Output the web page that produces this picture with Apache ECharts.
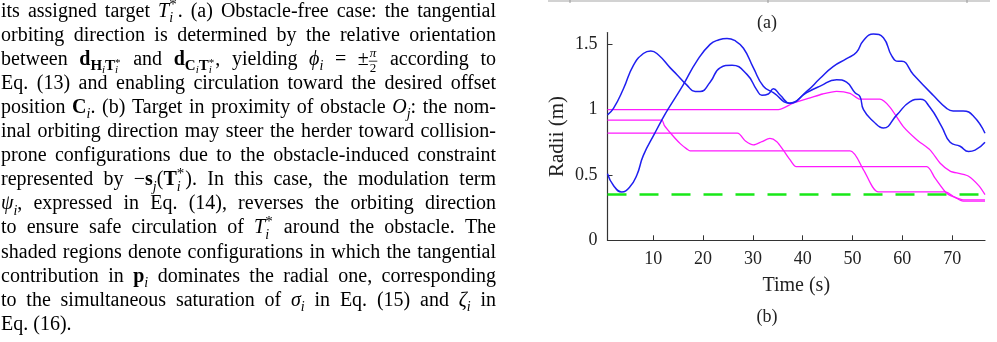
<!DOCTYPE html>
<html>
<head>
<meta charset="utf-8">
<script src="https://cdn.jsdelivr.net/npm/echarts@6/dist/echarts.min.js"></script>
<style>
    html, body { margin: 0; padding: 0; background: #fff; }
    #chart { width: 997px; height: 342px; }
</style>
</head>
<body>
<div id="chart"></div>
<script>
(function () {

    "use strict";

    // ---- data (time in s, radius in m) ----
    const blueATime = [0.8, 2, 4, 6, 8, 9.5, 11, 13.4, 14.7, 16.7, 18.4, 19.4, 21.4, 23.4, 25.8, 28.8, 30.8, 31.8, 33.1, 34.1, 35.5, 37.4, 40.8, 43.5, 46.8, 48.8, 50.5, 51.5, 52.2, 54.2, 56.2, 58.9, 61.5, 63.6, 65.5, 67.9, 69.6, 71.6, 73.3, 74.6, 76.6];
    const blueAValue = [0.96, 1.01, 1.16, 1.34, 1.43, 1.45, 1.42, 1.32, 1.27, 1.19, 1.14, 1.14, 1.21, 1.32, 1.34, 1.27, 1.15, 1.11, 1.12, 1.16, 1.11, 1.05, 1.13, 1.18, 1.23, 1.21, 1.13, 1.10, 1.00, 0.91, 0.86, 0.96, 1.06, 1.08, 1.02, 0.87, 0.75, 0.72, 0.68, 0.69, 0.75];

    const blueBTime = [0.8, 2, 3.65, 5.3, 6.7, 8, 10.3, 11.7, 12.9, 16, 18.7, 21.4, 23.2, 24.8, 26.3, 28.1, 30.1, 32.1, 34.1, 37.4, 40.8, 43.5, 46.1, 48.8, 50.8, 52.2, 54.2, 56.2, 57.9, 59.2, 59.9, 62.2, 66.2, 68.9, 70.2, 72.2, 74.3, 76.6];
    const blueBValue = [0.51, 0.42, 0.37, 0.41, 0.50, 0.65, 0.82, 0.92, 1.0, 1.19, 1.37, 1.50, 1.535, 1.545, 1.53, 1.47, 1.32, 1.18, 1.13, 1.05, 1.14, 1.24, 1.33, 1.39, 1.44, 1.53, 1.58, 1.55, 1.41, 1.37, 1.37, 1.27, 1.11, 1.01, 0.99, 0.99, 0.95, 0.82];

    const pinkATime = [0.8, 35.1, 38.1, 41.5, 44, 46.8, 49.5, 51.5, 55.5, 57.5, 60.2, 62.9, 65.6, 67.6, 69.6, 71.6, 73.3, 75.3, 76.6];
    const pinkAValue = [1.0, 1.0, 1.05, 1.09, 1.12, 1.14, 1.125, 1.08, 1.08, 1.02, 0.87, 0.77, 0.69, 0.59, 0.53, 0.51, 0.49, 0.42, 0.35];

    const pinkBTime = [0.8, 11.7, 12.2, 13.7, 15.4, 16.7, 17.4, 49.5, 52.2, 55.2, 68.6, 70.5, 72.2, 76.6];
    const pinkBValue = [0.92, 0.92, 0.88, 0.81, 0.74, 0.70, 0.684, 0.684, 0.54, 0.37, 0.37, 0.33, 0.30, 0.30];

    const pinkCTime = [0.8, 26.9, 28.5, 30.1, 31.8, 33.4, 34.8, 36.1, 37.4, 38.7, 64.9, 66.5, 68.9, 70.5, 72.2, 76.6];
    const pinkCValue = [0.82, 0.82, 0.76, 0.73, 0.755, 0.78, 0.755, 0.69, 0.62, 0.564, 0.564, 0.48, 0.36, 0.33, 0.31, 0.31];

    const safeTime = [0.8, 76.6];
    const safeValue = [0.35, 0.35];

    const xTicks = [10, 20, 30, 40, 50, 60, 70];
    const yTicks = [0, 0.5, 1, 1.5];

    // caption text beside the plot, {style:text} marks math pieces
    const textLines = [
        'its assigned target {i:T}{ss:i:*}. (a) Obstacle-free case: the tangential',
        'orbiting direction is determined by the relative orientation',
        'between {b:d}{sb:H}{ssi:i}{sb:T}{sss:i:*} and {b:d}{sb:C}{ssi:i}{sb:T}{sss:i:*}, yielding {i:ϕ}{s:i} = ±{fr:π:2} according to',
        'Eq. (13) and enabling circulation toward the desired offset',
        'position {b:C}{s:i}. (b) Target in proximity of obstacle {i:O}{s:j}: the nom-',
        'inal orbiting direction may steer the herder toward collision-',
        'prone configurations due to the obstacle-induced constraint',
        'represented by −{b:s}{s:j}({b:T}{ss:i:*}). In this case, the modulation term',
        '{i:ψ}{s:i}, expressed in Eq. (14), reverses the orbiting direction',
        'to ensure safe circulation of {i:T}{ss:i:*} around the obstacle. The',
        'shaded regions denote configurations in which the tangential',
        'contribution in {b:p}{s:i} dominates the radial one, corresponding',
        'to the simultaneous saturation of {i:σ}{s:i} in Eq. (15) and {i:ζ}{s:i} in',
        'Eq. (16).'
    ];

    const zip = (t, v) => t.map((x, k) => [x, v[k]]);

    // ---- text layout helpers ----
    const FONT = '"Liberation Serif", "Times New Roman", serif';
    const BODY = 20;
    const measureCtx = document.createElement('canvas').getContext('2d');

    const S = {
        r: {size: BODY},
        i: {size: BODY, italic: true},
        b: {size: BODY, bold: true},
        s: {size: 14, italic: true, dy: 5},
        sb: {size: 15, bold: true, dy: 5},
        ssi: {size: 11, italic: true, dy: 8},
        sup: {size: 15, dy: -8},
        sup2: {size: 11, dy: 1},
        num: {size: 13, italic: true, dy: -8},
        den: {size: 13, dy: 7}
    };

    function fontOf(st) {
        return (st.italic ? 'italic ' : '') + (st.bold ? 'bold ' : '') + st.size + 'px ' + FONT;
    }

    function measure(text, st) {
        measureCtx.font = fontOf(st);
        return measureCtx.measureText(text).width;
    }

    function parseWord(word) {
        const parts = [];
        const re = /\{([a-z0-9]+):([^}]*)\}|([^{]+)/g;
        let m;
        while ((m = re.exec(word)) !== null) {
            if (m[3]) {
                parts.push({kind: 'r', args: [m[3]]});
            } else {
                parts.push({kind: m[1], args: m[2].split(':')});
            }
        }
        return parts;
    }

    function layoutPart(p) {
        const k = p.kind, a = p.args;
        if (k === 'ss' || k === 'sss') {
            const lo = k === 'ss' ? S.s : S.ssi;
            const hi = k === 'ss' ? S.sup : S.sup2;
            const w = Math.max(measure(a[0], lo), measure(a[1], hi));
            return {w: w + 1, items: [{t: a[0], st: lo, dx: 0}, {t: a[1], st: hi, dx: 0}]};
        }
        if (k === 'fr') {
            const w1 = measure(a[0], S.num), w2 = measure(a[1], S.den);
            const w = Math.max(w1, w2) + 2;
            return {w: w + 1, bar: w, items: [{t: a[0], st: S.num, dx: (w - w1) / 2}, {t: a[1], st: S.den, dx: (w - w2) / 2}]};
        }
        const st = S[k] || S.r;
        return {w: measure(a[0], st), items: [{t: a[0], st: st, dx: 0}]};
    }

    function textElement(text, st, x, baseline) {
        return {
            type: 'text',
            x: x,
            y: baseline + (st.dy || 0) - 0.3375 * st.size,
            silent: true,
            style: {
                text: text,
                fontSize: st.size,
                fontFamily: FONT,
                fontStyle: st.italic ? 'italic' : 'normal',
                fontWeight: st.bold ? 'bold' : 'normal',
                fill: '#000',
                align: 'left',
                verticalAlign: 'middle'
            }
        };
    }

    function buildCaption(left, width, firstBaseline, step) {
        const out = [];
        textLines.forEach((line, li) => {
            const words = line.split(' ').map((w) => {
                const parts = parseWord(w).map(layoutPart);
                return {parts: parts, w: parts.reduce((s, p) => s + p.w, 0)};
            });
            const total = words.reduce((s, w) => s + w.w, 0);
            const last = li === textLines.length - 1;
            const gap = last ? measure(' ', S.r) : (width - total) / (words.length - 1);
            const baseline = firstBaseline + li * step;
            let x = left;
            words.forEach((w) => {
                let px = x;
                w.parts.forEach((p) => {
                    p.items.forEach((it) => out.push(textElement(it.t, it.st, px + it.dx, baseline)));
                    if (p.bar) {
                        out.push({
                            type: 'line', silent: true,
                            shape: {x1: px, y1: baseline - 5, x2: px + p.bar, y2: baseline - 5},
                            style: {stroke: '#000', lineWidth: 0.8}
                        });
                    }
                    px += p.w;
                });
                x += w.w + gap;
            });
        });
        return out;
    }

    // ---- chart ----
    const container = document.getElementById('chart');
    const chart = echarts.init(container, null, {renderer: 'canvas'});

    const axisColor = '#333';
    const labelStyle = {fontFamily: FONT, fontSize: 18, color: '#222'};

    const graphics = buildCaption(1, 495, 18, 24.1).concat([
        {type: 'rect', silent: true, shape: {x: 548, y: 0, width: 442, height: 2}, style: {fill: '#d2d2d2'}},
        {type: 'line', silent: true, shape: {x1: 570, y1: 0, x2: 570, y2: 3}, style: {stroke: '#999', lineWidth: 1}},
        {type: 'line', silent: true, shape: {x1: 768, y1: 0, x2: 768, y2: 3}, style: {stroke: '#999', lineWidth: 1}},
        {type: 'line', silent: true, shape: {x1: 967, y1: 0, x2: 967, y2: 3}, style: {stroke: '#999', lineWidth: 1}},
        {type: 'text', silent: true, x: 767, y: 23, style: {text: '(a)', fontFamily: FONT, fontSize: 18, fill: '#222', align: 'center', verticalAlign: 'middle'}},
        {type: 'text', silent: true, x: 767, y: 317, style: {text: '(b)', fontFamily: FONT, fontSize: 18, fill: '#222', align: 'center', verticalAlign: 'middle'}}
    ]);

    const blue = '#1f1ff0';
    const pink = '#ff1aff';

    const option = {
        animation: false,
        backgroundColor: '#fff',
        textStyle: {fontFamily: FONT},
        grid: {left: 607.5, right: 12, top: 32.6, bottom: 101.7, containLabel: false},
        xAxis: {
            type: 'value',
            min: 0.8,
            max: 76.6,
            name: 'Time (s)',
            nameLocation: 'middle',
            nameGap: 35,
            nameTextStyle: {fontFamily: FONT, fontSize: 20, color: '#222'},
            axisLine: {show: true, lineStyle: {color: axisColor, width: 1.2}},
            axisTick: {show: true, inside: true, length: 5, customValues: xTicks, lineStyle: {color: axisColor}},
            axisLabel: Object.assign({customValues: xTicks, margin: 10}, labelStyle),
            splitLine: {show: false}
        },
        yAxis: {
            type: 'value',
            min: 0,
            max: 1.59,
            name: 'Radii (m)',
            nameLocation: 'middle',
            nameGap: 40,
            nameRotate: 90,
            nameTextStyle: {fontFamily: FONT, fontSize: 21, color: '#222'},
            axisLine: {show: true, lineStyle: {color: axisColor, width: 1.2}},
            axisTick: {show: true, inside: true, length: 5, customValues: yTicks, lineStyle: {color: axisColor}},
            axisLabel: Object.assign({customValues: yTicks, margin: 10}, labelStyle),
            splitLine: {show: false}
        },
        series: [
            {type: 'line', data: zip(safeTime, safeValue), showSymbol: false, silent: true,
                lineStyle: {color: '#18e818', width: 2.5, type: [19, 13]}},
            {type: 'line', data: zip(pinkATime, pinkAValue), showSymbol: false, smooth: 0.25, silent: true,
                lineStyle: {color: pink, width: 1.3}},
            {type: 'line', data: zip(pinkBTime, pinkBValue), showSymbol: false, smooth: 0.25, silent: true,
                lineStyle: {color: pink, width: 1.3}},
            {type: 'line', data: zip(pinkCTime, pinkCValue), showSymbol: false, smooth: 0.25, silent: true,
                lineStyle: {color: pink, width: 1.3}},
            {type: 'line', data: zip(blueATime, blueAValue), showSymbol: false, smooth: 0.5, silent: true,
                lineStyle: {color: blue, width: 1.5}},
            {type: 'line', data: zip(blueBTime, blueBValue), showSymbol: false, smooth: 0.5, silent: true,
                lineStyle: {color: blue, width: 1.5}}
        ],
        graphic: graphics
    };

    chart.setOption(option);

})();
</script>
</body>
</html>
